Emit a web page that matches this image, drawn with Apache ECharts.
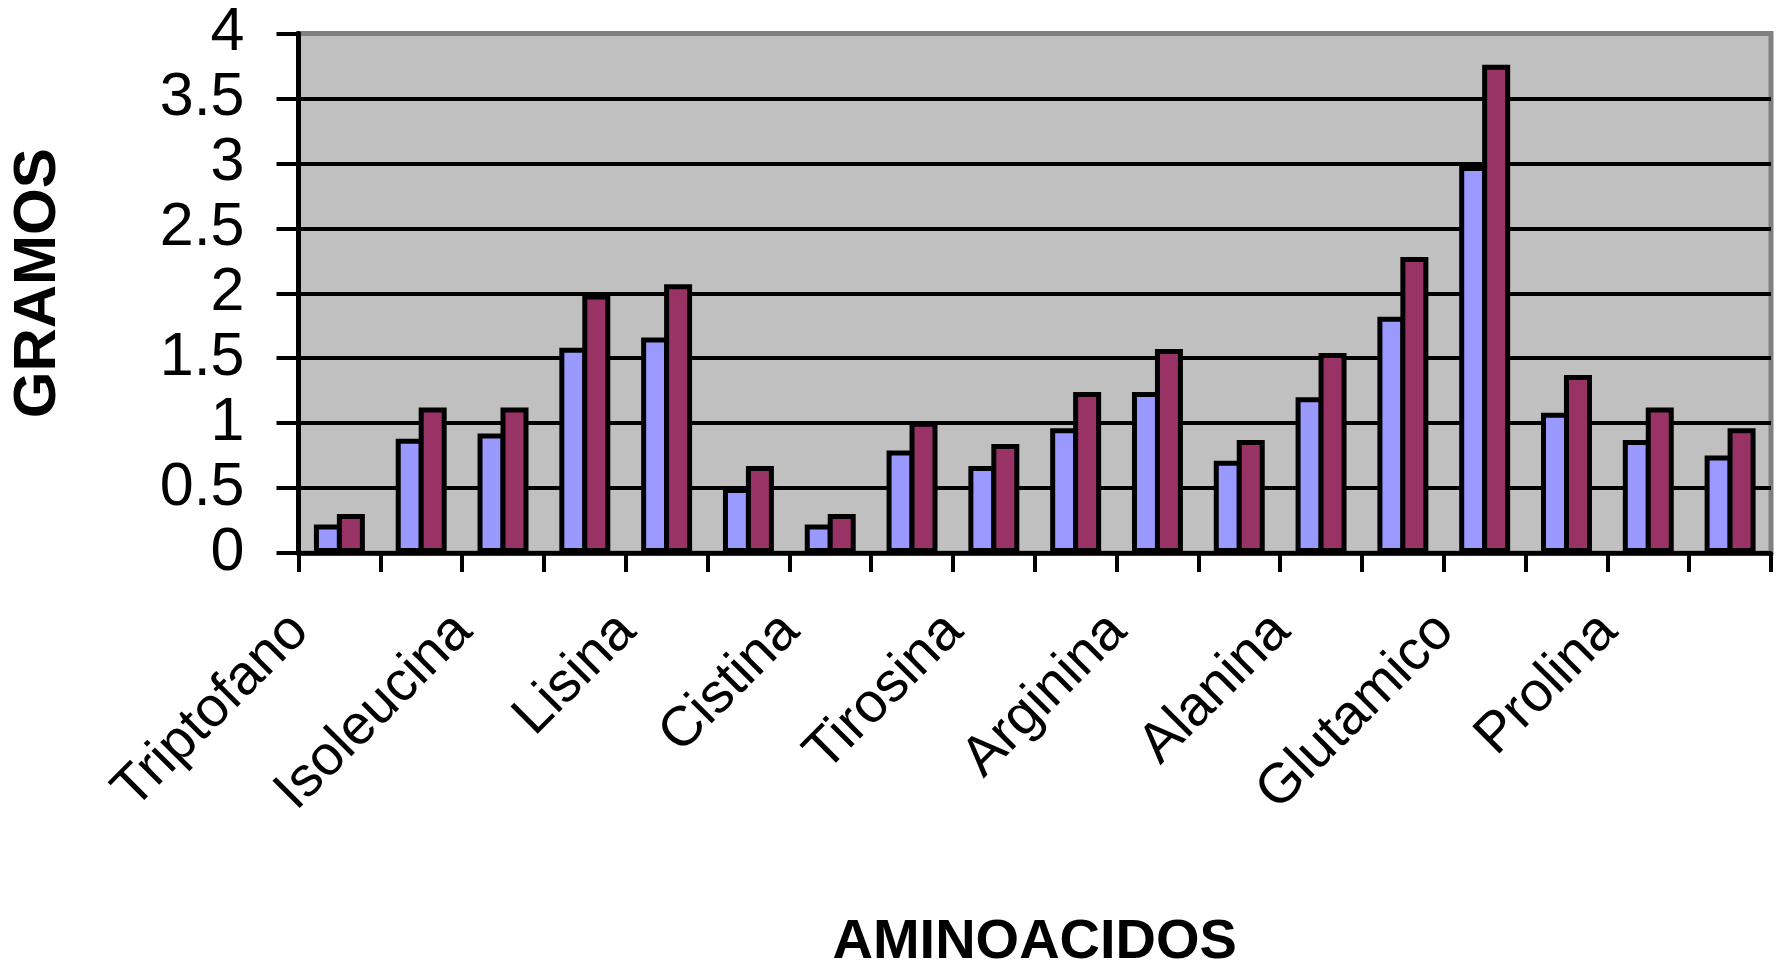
<!DOCTYPE html>
<html>
<head>
<meta charset="utf-8">
<title>Aminoácidos</title>
<script src="https://cdn.jsdelivr.net/npm/echarts@6/dist/echarts.min.js"></script>
<style>
  html, body { margin: 0; padding: 0; background: #ffffff; }
  #chart { width: 1777px; height: 968px; }
</style>
</head>
<body>
<div id="chart"></div>
<script>
// Amino acid categories along the x axis
const categories = [
  'Triptofano', 'Treonina', 'Isoleucina', 'Leucina', 'Lisina', 'Metionina',
  'Cistina', 'Fenilalanina', 'Tirosina', 'Valina', 'Arginina', 'Histidina',
  'Alanina', 'Aspartico', 'Glutamico', 'Glicina', 'Prolina', 'Serina'
];

// Grams per amino acid, first series (light blue)
const serie1 = [0.22, 0.88, 0.92, 1.58, 1.66, 0.50, 0.22, 0.79, 0.67, 0.96, 1.24, 0.71, 1.20, 1.82, 2.98, 1.08, 0.87, 0.75];

// Grams per amino acid, second series (plum)
const serie2 = [0.30, 1.12, 1.12, 1.99, 2.07, 0.67, 0.30, 1.01, 0.84, 1.24, 1.57, 0.87, 1.54, 2.28, 3.76, 1.37, 1.12, 0.96];

// Value axis range and step
const yMin = 0;
const yMax = 4;
const yStep = 0.5;

const FONT = 'Liberation Sans, Arial, sans-serif';

// Grid lines are black, except the top one which merges with the grey frame
const nSplits = Math.round((yMax - yMin) / yStep) + 1;
const splitColors = [];
for (let i = 0; i < nSplits; i++) splitColors.push(i === nSplits - 1 ? '#808080' : '#000000');

const chart = echarts.init(document.getElementById('chart'), null, { renderer: 'canvas' });

const barStyle = (color) => ({
  color: color,
  borderColor: '#000000',
  borderWidth: 5
});

chart.setOption({
  backgroundColor: '#ffffff',
  animation: false,
  grid: {
    left: 298.5,
    right: 6,
    top: 33.5,
    bottom: 415,
    outerBoundsMode: 'none',
    containLabel: false,
    show: true,
    backgroundColor: '#C0C0C0',
    borderColor: '#808080',
    borderWidth: 5
  },
  xAxis: {
    type: 'category',
    data: categories,
    boundaryGap: true,
    name: 'AMINOACIDOS',
    nameLocation: 'middle',
    nameGap: 362,
    nameTextStyle: {
      fontFamily: FONT,
      fontSize: 56,
      fontWeight: 'bold',
      color: '#000000'
    },
    axisLine: { show: true, lineStyle: { color: '#000000', width: 4.5 } },
    axisTick: { show: true, interval: 0, length: 19, lineStyle: { color: '#000000', width: 4 } },
    axisLabel: {
      interval: 1,
      rotate: 45,
      margin: 30,
      padding: [0, 56, 0, 0],
      fontFamily: FONT,
      fontSize: 56,
      color: '#000000'
    },
    splitLine: { show: false }
  },
  yAxis: {
    type: 'value',
    min: yMin,
    max: yMax,
    interval: yStep,
    name: 'GRAMOS',
    nameLocation: 'middle',
    nameRotate: 90,
    nameGap: 230,
    nameTextStyle: {
      fontFamily: FONT,
      fontSize: 60,
      fontWeight: 'bold',
      color: '#000000',
      padding: [0, 0, 0, 20]
    },
    axisLine: { show: true, lineStyle: { color: '#000000', width: 5 } },
    axisTick: { show: true, length: 22, lineStyle: { color: '#000000', width: 4 } },
    axisLabel: {
      margin: 54,
      fontFamily: FONT,
      fontSize: 61,
      color: '#000000'
    },
    splitLine: { show: true, lineStyle: { color: splitColors, width: 4 } }
  },
  series: [
    {
      name: 'Serie 1',
      type: 'bar',
      data: serie1,
      barWidth: 28,
      barGap: '-18%',
      itemStyle: barStyle('#9999FF')
    },
    {
      name: 'Serie 2',
      type: 'bar',
      data: serie2,
      barWidth: 28,
      barGap: '-18%',
      itemStyle: barStyle('#993366')
    }
  ]
});
</script>
</body>
</html>
